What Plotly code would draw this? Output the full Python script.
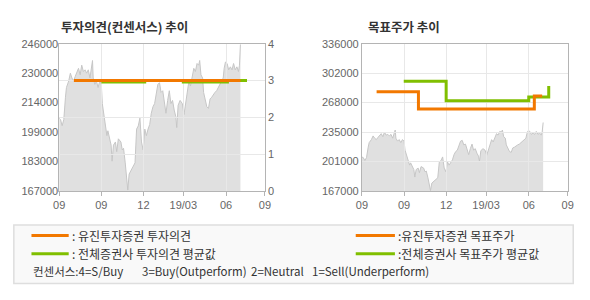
import plotly.graph_objects as go

W, H = 590, 300

# ---------------- data ----------------
# trading-time index (0 .. 210 spans the x axis)
x_tick_vals = [0, 43, 86, 126.7, 170.4, 210]
x_tick_text = ["09", "09", "12", "19/03", "06", "09"]

price_t = [0, 1.4, 3, 4.7, 6.4, 7.4, 9.7, 11.4, 13, 14.7, 16.4, 18, 19.7, 21.4, 23, 24.7,
           26.4, 28, 29.7, 31.4, 33, 34, 34.7, 36.4, 38, 39.7, 41.4, 43, 44, 45.4, 47.4,
           48.7, 49.7, 51.4, 53, 54, 55.4, 57.4, 58.7, 60.4, 63, 64.4, 65.7, 67.4, 69, 70,
           71.4, 73.4, 75.7, 77.4, 79, 80.7, 82.4, 84, 85.7, 87.4, 89, 90.7, 92.4, 94, 95.7,
           97.4, 99, 100.7, 102.4, 104, 105.7, 107.4, 109, 110.7, 112.4, 114, 115.7, 117.4,
           119, 120, 121.4, 123.4, 125.7, 127.4, 129, 130.7, 132.4, 134, 135.7, 137.4, 139,
           140.7, 142.4, 143.4, 144.7, 146.4, 147.4, 149, 150.7, 152.4, 154, 155.7, 157.4,
           159, 160.7, 162.4, 164, 165.7, 167.4, 168.4, 169.7, 171.4, 173, 174.7, 176.4, 178,
           179.7, 181.4, 183, 184, 185]
price_v = [206000, 205300, 202000, 205300, 217300, 222500, 226000, 230200, 227600, 226000,
           228500, 231100, 232800, 229300, 234500, 231100, 232000, 230200, 232000, 227600,
           233600, 237000, 227600, 224200, 226000, 222500, 226000, 224200, 213900, 207900,
           200200, 196700, 199300, 195000, 191600, 183000, 191600, 193300, 188100, 195000,
           193300, 189000, 189900, 182100, 172700, 167500, 176100, 177800, 180400, 182100,
           200200, 201900, 206100, 193300, 189000, 200200, 196700, 200200, 202700, 208700,
           212200, 213900, 219900, 224200, 225100, 219900, 220800, 213900, 208700, 215600,
           220800, 213900, 215600, 210400, 207000, 201000, 213000, 215600, 213900, 208000,
           214000, 220800, 225900, 223300, 229300, 232800, 231100, 235400, 234500, 237000,
           229300, 227600, 219900, 216400, 212200, 211300, 216400, 217300, 219000, 219900,
           220800, 222500, 224200, 225900, 227600, 232800, 236200, 235400, 232000, 233600,
           232000, 235400, 232000, 233600, 231100, 234500, 245600]

# consensus (1..4)
own_op_t = [15, 185]
own_op_v = [3, 3]
avg_op_t = [43, 87.3, 126.7, 171.7, 191.7]
avg_op_v = [2.96, 3.0, 2.96, 3.0, 3.0]

# target prices
own_tp_t = [15, 57.7, 176, 184]
own_tp_v = [281000, 261000, 276000, 276000]
avg_tp_t = [42.7, 86, 170.3, 190.7]
avg_tp_v = [293000, 270500, 275000, 287500]

left_y_vals = [167000, 182800, 198600, 214400, 230200, 246000]
left_y_text = ["167000", "183000", "199000", "214000", "230000", "246000"]
op_vals = [0, 1, 2, 3, 4]
right_y_vals = [167000, 200800, 234600, 268400, 302200, 336000]
right_y_text = ["167000", "201000", "235000", "268000", "302000", "336000"]

titles = ["투자의견(컨센서스) 추이", "목표주가 추이"]
legend_labels = [": 유진투자증권 투자의견", ": 전체증권사 투자의견 평균값",
                 ":유진투자증권 목표주가", ":전체증권사 목표주가 평균값"]
consensus_parts = ["컨센서스:4=S/Buy", "3=Buy(Outperform)", "2=Neutral", "1=Sell(Underperform)"]

# ---------------- style ----------------
ORANGE = "#f27800"
GREEN = "#80bf00"
FILL = "#e0e0e0"
PLINE = "#c6c6c6"
GRID = "#e8e8e8"
FRAME = "#b4b4b4"
TICKC = "#666666"
FONT = "Liberation Sans"
KFONT = "Noto Sans CJK KR"


def px(x):
    return x / W


def py(y):
    return 1 - y / H


LX = [px(54.3), px(264.3)]
RX = [px(363.3), px(573.3)]
YD = [py(192.7), py(39.3)]

fig = go.Figure()

# price areas (bottom subplots)
fig.add_trace(go.Scatter(x=price_t, y=price_v, mode="lines", fill="tozeroy",
                         fillcolor=FILL, line=dict(color=PLINE, width=1),
                         xaxis="x", yaxis="y", hoverinfo="skip"))
fig.add_trace(go.Scatter(x=price_t, y=price_v, mode="lines", fill="tozeroy",
                         fillcolor=FILL, line=dict(color=PLINE, width=1),
                         xaxis="x2", yaxis="y2", hoverinfo="skip"))

# opinion lines (overlay subplot with grid above area)
fig.add_trace(go.Scatter(x=avg_op_t, y=avg_op_v, mode="lines", line_shape="hv",
                         line=dict(color=GREEN, width=3), xaxis="x3", yaxis="y3"))
fig.add_trace(go.Scatter(x=own_op_t, y=own_op_v, mode="lines", line_shape="hv",
                         line=dict(color=ORANGE, width=3), xaxis="x3", yaxis="y3"))

# target price lines
fig.add_trace(go.Scatter(x=avg_tp_t, y=avg_tp_v, mode="lines", line_shape="hv",
                         line=dict(color=GREEN, width=3), xaxis="x4", yaxis="y4"))
fig.add_trace(go.Scatter(x=own_tp_t, y=own_tp_v, mode="lines", line_shape="hv",
                         line=dict(color=ORANGE, width=3), xaxis="x4", yaxis="y4"))

hidden_x = dict(range=[0, 210], visible=False, fixedrange=True)
tickfont = dict(family=FONT, size=11, color=TICKC)

xvis = dict(range=[0, 210], tickvals=x_tick_vals, ticktext=x_tick_text,
            showgrid=True, gridcolor=GRID, gridwidth=1, zeroline=False,
            showline=True, mirror=True, linecolor=FRAME, linewidth=1,
            ticks="outside", ticklen=4, tickcolor=FRAME, tickfont=tickfont,
            fixedrange=True)

fig.update_layout(
    width=W, height=H,
    margin=dict(l=0, r=0, t=0, b=0),
    paper_bgcolor="white", plot_bgcolor="rgba(0,0,0,0)",
    showlegend=False,
    xaxis=dict(domain=LX, anchor="y", **hidden_x),
    yaxis=dict(domain=YD, anchor="x", range=[167000, 246000], tickvals=left_y_vals,
               ticktext=left_y_text, showgrid=False, zeroline=False, showline=False,
               tickfont=tickfont, ticks="", fixedrange=True),
    xaxis2=dict(domain=RX, anchor="y2", **hidden_x),
    yaxis2=dict(domain=YD, anchor="x2", range=[167000, 336000], visible=False,
                fixedrange=True),
    xaxis3=dict(domain=LX, anchor="y3", **xvis),
    yaxis3=dict(domain=YD, anchor="x3", side="right", range=[0, 4], tickvals=op_vals,
                showgrid=True, gridcolor=GRID, gridwidth=1, zeroline=False,
                showline=True, mirror=True, linecolor=FRAME, linewidth=1,
                tickfont=tickfont, ticks="", fixedrange=True),
    xaxis4=dict(domain=RX, anchor="y4", **xvis),
    yaxis4=dict(domain=YD, anchor="x4", range=[167000, 336000], tickvals=right_y_vals,
                ticktext=right_y_text, showgrid=True, gridcolor=GRID, gridwidth=1,
                zeroline=False, showline=True, mirror=True, linecolor=FRAME,
                linewidth=1, tickfont=tickfont, ticks="", fixedrange=True),
)

annotations = [
    dict(text="<b>" + titles[0] + "</b>", x=px(54.5), y=py(21), xanchor="left",
         yanchor="middle", font=dict(family=KFONT, size=12.5, color="#333333")),
    dict(text="<b>" + titles[1] + "</b>", x=px(367.5), y=py(21), xanchor="left",
         yanchor="middle", font=dict(family=KFONT, size=12.5, color="#333333")),
]

shapes = [
    dict(type="rect", xref="paper", yref="paper", x0=px(8), x1=px(579), y0=py(289),
         y1=py(228), fillcolor="#f9f9f9", line=dict(color="#dedede", width=1.5),
         layer="below"),
]

leg_rows = [239, 258]
leg_cols = [(26, 64, 65), (357, 397, 398)]
colors = [ORANGE, GREEN]
for c, (x0, x1, xt) in enumerate(leg_cols):
    for r, yy in enumerate(leg_rows):
        shapes.append(dict(type="line", xref="paper", yref="paper", x0=px(x0), x1=px(x1),
                           y0=py(yy), y1=py(yy), line=dict(color=colors[r], width=3)))
        annotations.append(dict(text=legend_labels[c * 2 + r], x=px(xt), y=py(yy),
                                xanchor="left", yanchor="middle",
                                font=dict(family=KFONT, size=12, color="#333333")))

cons_x = [26, 137, 248, 310]
for i, t in enumerate(consensus_parts):
    annotations.append(dict(text=t, x=px(cons_x[i]), y=py(276), xanchor="left",
                            yanchor="middle",
                            font=dict(family=KFONT, size=11.5, color="#333333")))

for a in annotations:
    a.update(xref="paper", yref="paper", showarrow=False)

fig.update_layout(annotations=annotations, shapes=shapes)

fig.write_html("out.html")
